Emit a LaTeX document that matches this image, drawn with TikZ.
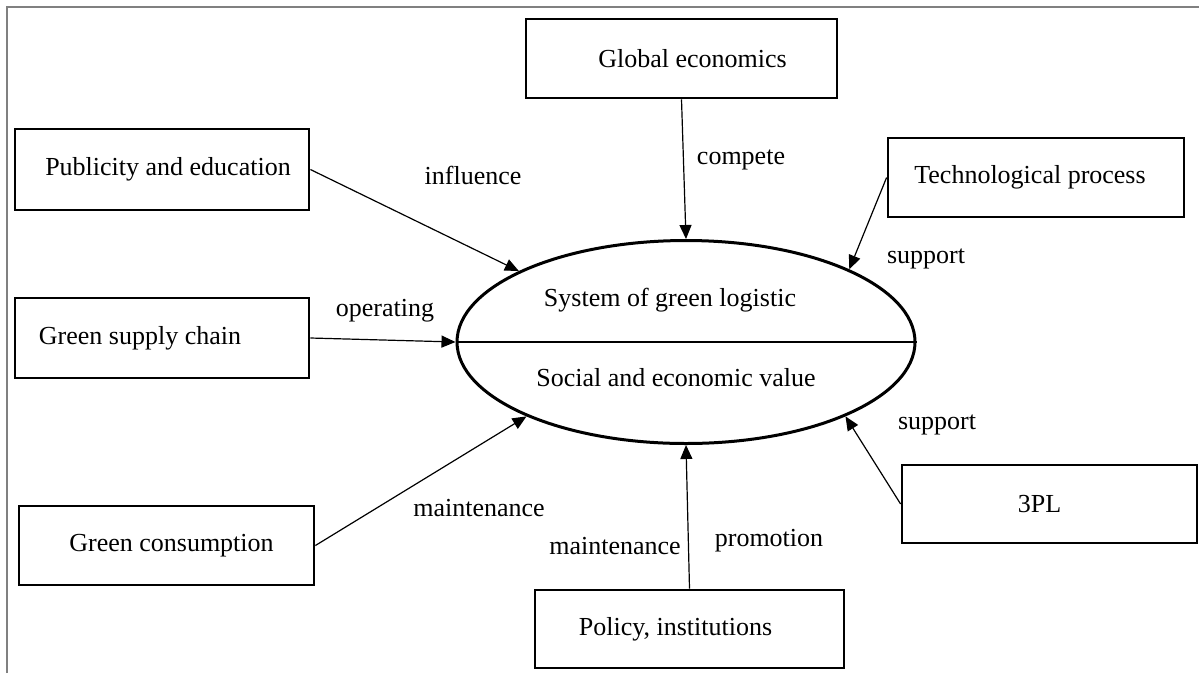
\documentclass[tikz,border=0pt]{standalone}
\usepackage{fontspec}
\setmainfont{Liberation Serif}
\usetikzlibrary{shapes.geometric,arrows.meta}
\newcommand\txshift[2]{\kern#1pt #2\kern-#1pt}
\begin{document}
\begin{tikzpicture}[x=1pt,y=-1pt,
  every node/.style={font=\fontsize{26}{30}\selectfont},
  box/.style={draw,line width=2.8pt,inner sep=0pt},
  oval/.style={draw,ellipse,line width=3pt,inner sep=0pt},
  lbl/.style={inner sep=0pt,text height=18pt,text depth=6pt},
  arr/.style={line width=1.2pt,-{Triangle[length=14pt,width=12pt]}},
  frame/.style={draw=black!50,line width=1.5pt}]
\useasboundingbox (0,0) rectangle (1199,673);
\draw[frame] (7,673) -- (7,7) -- (1199,7);

% boxes
\node[box,minimum width=294,minimum height=81] (pub) at (162,169.5) {\txshift{6}{Publicity and education}};
\node[box,minimum width=311,minimum height=79] (glob) at (681.5,58.5) {\txshift{11}{Global economics}};
\node[box,minimum width=296,minimum height=79] (tech) at (1036,177.5) {\txshift{-6}{Technological process}};
\node[box,minimum width=294,minimum height=80] (gsc) at (162,338) {\txshift{-22}{Green supply chain}};
\node[box,minimum width=295,minimum height=79] (gcons) at (166.5,545.5) {\txshift{5}{Green consumption}};
\node[box,minimum width=309,minimum height=78] (pol) at (689.5,629) {\txshift{-14}{Policy, institutions}};
\node[box,minimum width=295,minimum height=78] (tpl) at (1049.5,504) {\txshift{-10}{3PL}};

% central ellipse
\node[oval,minimum width=458,minimum height=203] (ell) at (686,342) {};
\draw[line width=1.2pt] (ell.west) -- (ell.east);
\node[lbl] (sys) at (670,300) {System of green logistic};
\node[lbl] (soc) at (676,380) {Social and economic value};

% connectors
\draw[arr] (pub.east) -- (ell.157);
\draw[arr] (glob.south) -- (ell.north);
\draw[arr] (tech.west) -- (ell.24);
\draw[arr] (gsc.east) -- (ell.west);
\draw[arr] (gcons.east) -- (ell.205);
\draw[arr] (pol.north) -- (ell.south);
\draw[arr] (tpl.west) -- (ell.335.7);

% labels
\node[lbl] (l1) at (473,178) {influence};
\node[lbl] (l2) at (741,158) {compete};
\node[lbl] (l3) at (926,257) {support};
\node[lbl] (l4) at (385,310) {operating};
\node[lbl] (l5) at (479,510) {maintenance};
\node[lbl] (l6) at (615,548) {maintenance};
\node[lbl] (l7) at (769,540) {promotion};
\node[lbl] (l8) at (937,423) {support};
\end{tikzpicture}
\end{document}
